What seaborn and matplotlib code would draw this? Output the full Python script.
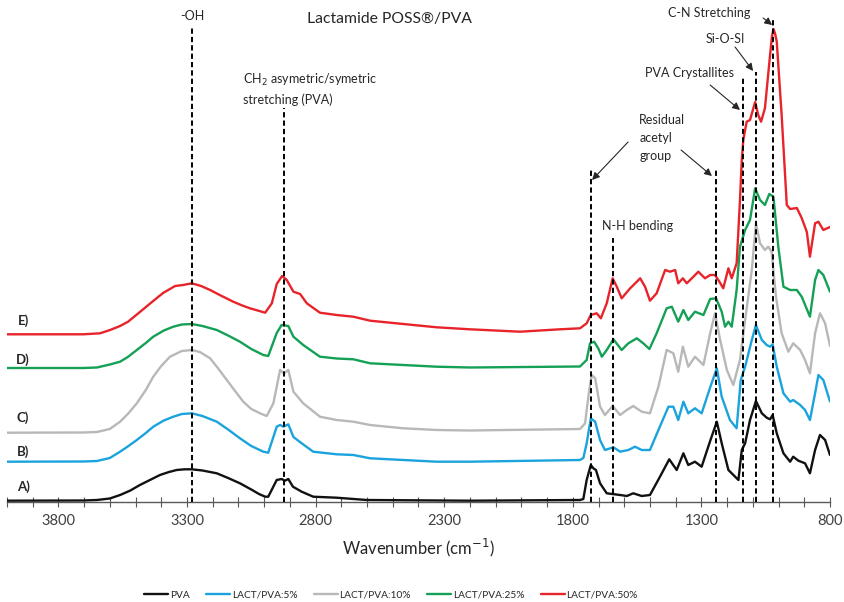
import numpy as np
import pandas as pd
import matplotlib
matplotlib.use("Agg")
import matplotlib.pyplot as plt
import seaborn as sns
from matplotlib.lines import Line2D
from matplotlib.ticker import MultipleLocator

# ---------------- data (wavenumber cm-1, absorbance in arbitrary stacked units) ----------------
SAMPLES = ["PVA", "LACT/PVA:5%", "LACT/PVA:10%", "LACT/PVA:25%", "LACT/PVA:50%"]
COLORS = ["#111111", "#1aa3dc", "#b8b8b8", "#14a055", "#e8242b"]
TRACE_LETTERS = ["A)", "B)", "C)", "D)", "E)"]

A_WN = [4000, 3703, 3650, 3600, 3560, 3520, 3483, 3440, 3405, 3370,
        3340, 3310, 3281, 3240, 3184, 3140, 3094, 3050, 3020, 2996,
        2984, 2951, 2932, 2919, 2906, 2888, 2854, 2809, 2718, 2601,
        2200, 1772, 1759, 1746, 1730, 1720, 1710, 1694, 1668, 1616,
        1590, 1565, 1532, 1500, 1461, 1425, 1396, 1370, 1351, 1325,
        1299, 1266, 1240, 1221, 1195, 1156, 1143, 1130, 1111, 1088,
        1065, 1046, 1033, 1023, 1007, 981, 955, 943, 923, 897,
        878, 858, 839, 819, 800]
A_I = [1.3, 1.5, 2, 3.5, 7, 11.5, 17, 22.5, 27, 30,
       32, 32.7, 32.7, 31.5, 28.7, 24, 18.7, 12.5, 8, 5.3,
       5.3, 22, 23, 21.3, 23, 15.3, 10.3, 5.3, 4.3, 2,
       1.3, 2, 3, 22, 37, 33.7, 32, 18.7, 8.7, 7,
       6, 8.7, 6, 7, 25.3, 42.7, 32, 48.7, 37, 40.3,
       35.3, 61, 80.3, 58.7, 32, 22, 52, 58.7, 82, 101,
       88.7, 84.3, 82.7, 87, 68.7, 48.7, 40.3, 45.3, 41.3, 38.7,
       28.7, 52, 67, 62, 47]

B_WN = [4000, 3703, 3650, 3600, 3560, 3530, 3495, 3460, 3431, 3390,
        3353, 3320, 3281, 3240, 3184, 3140, 3094, 3050, 3003, 2984,
        2951, 2938, 2925, 2906, 2886, 2854, 2809, 2718, 2653, 2588,
        2459, 2329, 2200, 1772, 1759, 1746, 1730, 1713, 1694, 1675,
        1642, 1616, 1584, 1558, 1532, 1500, 1467, 1428, 1409, 1390,
        1370, 1351, 1325, 1299, 1266, 1240, 1221, 1189, 1163, 1147,
        1130, 1104, 1088, 1065, 1046, 1033, 1023, 1007, 981, 955,
        943, 916, 897, 878, 858, 845, 826, 800]
B_I = [40.3, 40.5, 41, 44, 50.3, 55.5, 62, 69, 75.3, 81.5,
       85.3, 88, 88.7, 86, 80.3, 72.5, 63.7, 56, 50.3, 49.3,
       75.3, 77, 75.3, 77.7, 65, 58.7, 50.3, 47.7, 47, 43.7,
       42, 40.3, 40.3, 42, 44, 58.7, 83.7, 80.3, 62, 52,
       54.7, 50.3, 52, 55.3, 52, 52, 72, 95.3, 95.3, 82,
       100.3, 88.7, 93.7, 88.7, 114.5, 133.7, 105.3, 82, 73.7, 122,
       135.3, 162, 177, 162, 157, 155.3, 157.7, 135.3, 108.7, 100.3,
       102, 97, 92, 82, 108.7, 127, 122, 100.5]

C_WN = [4000, 3703, 3650, 3600, 3560, 3530, 3495, 3460, 3431, 3400,
        3366, 3320, 3281, 3250, 3210, 3180, 3145, 3110, 3081, 3050,
        3016, 2990, 2964, 2938, 2923, 2906, 2886, 2848, 2783, 2718,
        2653, 2588, 2459, 2329, 2200, 1772, 1752, 1746, 1736, 1726,
        1713, 1694, 1675, 1645, 1616, 1590, 1565, 1532, 1500, 1467,
        1435, 1409, 1390, 1372, 1351, 1325, 1292, 1266, 1247, 1227,
        1201, 1176, 1150, 1130, 1104, 1088, 1072, 1053, 1040, 1027,
        1010, 988, 962, 943, 916, 897, 878, 858, 839, 819,
        800]
C_I = [69.3, 69.5, 70, 73, 80.3, 88, 98.7, 112, 125.3, 136,
       145.3, 151, 152, 150, 143.7, 134, 122, 110, 100.3, 93,
       88.7, 86, 98.7, 132, 128.7, 132, 110.3, 98.7, 85.3, 82,
       80.3, 77, 73.7, 72, 71.5, 73, 78.7, 92, 112, 127,
       123.7, 95.3, 87, 96, 87, 92, 96, 90.3, 88.7, 115.3,
       152, 148.7, 130.3, 155.3, 135.3, 145.3, 137, 168.7, 188.7, 162,
       132, 117, 142, 182, 232, 278.7, 258.7, 252, 255.3, 250.3,
       205.3, 168.7, 150.3, 158.7, 152, 142, 128.7, 168.7, 188.7, 178.7,
       156]

D_WN = [4000, 3703, 3650, 3600, 3560, 3530, 3495, 3460, 3431, 3390,
        3353, 3320, 3281, 3240, 3184, 3140, 3094, 3050, 3003, 2984,
        2951, 2932, 2906, 2886, 2848, 2783, 2718, 2653, 2588, 2459,
        2329, 2200, 1772, 1746, 1733, 1717, 1701, 1687, 1668, 1642,
        1610, 1584, 1551, 1526, 1502, 1474, 1435, 1415, 1390, 1370,
        1351, 1325, 1292, 1266, 1243, 1221, 1208, 1195, 1182, 1163,
        1150, 1130, 1111, 1091, 1072, 1053, 1036, 1020, 1001, 981,
        955, 929, 910, 878, 858, 845, 826, 800]
D_I = [134, 134, 134.5, 137.5, 140.3, 145, 152, 159, 165.3, 171.5,
       175.3, 177.5, 178, 176, 172, 166.5, 160.3, 153, 147, 146,
       169, 177, 176, 165.3, 157, 145.3, 143.5, 142.7, 138.7, 137,
       135.3, 134.5, 135.5, 142, 158.7, 160.3, 153.7, 145.3, 152, 162.7,
       152, 158.7, 163.7, 158.7, 153, 168.7, 193.7, 195.3, 180.3, 192,
       182, 190.3, 187, 203, 203.7, 190.3, 175.3, 180.3, 175.3, 212,
       255.3, 272, 282, 313.7, 302, 297, 308, 305.3, 255.3, 215.3,
       212, 212, 205.3, 185.3, 222, 232, 227, 210.3]

E_WN = [4000, 3703, 3638, 3599, 3560, 3529, 3483, 3436, 3393, 3346,
        3315, 3281, 3245, 3210, 3165, 3120, 3085, 3055, 3025, 2996,
        2970, 2951, 2930, 2912, 2886, 2860, 2834, 2783, 2718, 2653,
        2588, 2459, 2329, 2200, 2005, 1850, 1772, 1746, 1730, 1707,
        1691, 1668, 1645, 1629, 1610, 1577, 1551, 1538, 1519, 1500,
        1474, 1441, 1422, 1402, 1390, 1372, 1357, 1331, 1312, 1286,
        1266, 1247, 1230, 1215, 1195, 1182, 1163, 1156, 1150, 1143,
        1137, 1124, 1111, 1091, 1079, 1068, 1053, 1033, 1026, 1020,
        1014, 1007, 988, 968, 955, 929, 910, 890, 878, 858,
        845, 826, 800]
E_I = [167.7, 167.7, 168.7, 172, 176, 180.3, 190, 200, 209, 216,
       217, 218.7, 216, 212, 206, 200.3, 196.5, 193.7, 191.5, 189.3,
       198.7, 218, 226, 222, 210.3, 208, 198.7, 189.3, 187, 185.3,
       181.3, 178, 174.7, 172.7, 170.3, 172.7, 173.7, 178.7, 187, 188.7,
       183.7, 198.7, 223.7, 215.3, 203.7, 213.7, 220.3, 223.7, 215.3, 201.3,
       208.7, 232, 230.3, 232, 218.7, 223.7, 218.7, 225.3, 230.3, 223.7,
       227, 227, 220.3, 213.7, 233.7, 223.7, 238.7, 272, 302, 342,
       362, 380.3, 382, 400, 387, 380.3, 393.7, 447, 465, 473,
       469, 460.3, 387, 297, 293, 294, 284, 270, 245.3, 278.7,
       280.3, 272, 275]

WNS = [A_WN, B_WN, C_WN, D_WN, E_WN]
INTS = [A_I, B_I, C_I, D_I, E_I]
LETTER_Y = [15, 50, 84, 142, 181]

# band markers: wavenumber and top of dashed line
BAND_WN = [3279, 2923, 1731, 1642, 1243, 1137, 1088, 1020]
BAND_TOP = [474, 394, 332, 264, 332, 424, 430, 484]

X_TICKS = [3800, 3300, 2800, 2300, 1800, 1300, 800]

# ---------------- plot ----------------
sns.set_theme(style="white")
plt.rcParams['font.family'] = ['Lato', 'DejaVu Sans']

fig = plt.figure(figsize=(8.45, 6.02), dpi=100)
ax = fig.add_axes([6.9 / 845, 100 / 602, 823.1 / 845, 502 / 602])

frames = [pd.DataFrame({"wn": w, "I": i, "sample": s}) for s, w, i in zip(SAMPLES, WNS, INTS)]
df = pd.concat(frames, ignore_index=True)
sns.lineplot(data=df, x="wn", y="I", hue="sample", hue_order=SAMPLES,
             palette=dict(zip(SAMPLES, COLORS)), estimator=None, sort=True,
             legend=False, linewidth=1.7, ax=ax)
for ln in ax.get_lines():
    ln.set_solid_joinstyle("round")

ax.set_xlim(4000, 800)
ax.set_ylim(0, 502)
ax.set_yticks([])
ax.set_ylabel("")
ax.set_xticks(X_TICKS)
ax.set_xticklabels([str(t) for t in X_TICKS])
ax.xaxis.set_minor_locator(MultipleLocator(100))
ax.tick_params(axis="x", which="both", direction="inout", length=7, width=0.8,
               color="#595959", bottom=True)
ax.tick_params(axis="x", which="major", labelsize=10.5, labelcolor="#404040", pad=5)
for side in ["left", "top", "right"]:
    ax.spines[side].set_visible(False)
ax.spines["bottom"].set_color("#595959")
ax.spines["bottom"].set_linewidth(1.0)

ax.set_xlabel("Wavenumber (cm$^{-1}$)", fontsize=12, color="#262626")
ax.xaxis.set_label_coords(0.5, -0.07)

# dashed band markers
for wn, top in zip(BAND_WN, BAND_TOP):
    ax.plot([wn, wn], [0, top], color="black", lw=1.4, ls=(0, (2.7, 1.6)), zorder=6)

tc = "#262626"
fs = 9
ax.text(3279, 486, "-OH", ha="center", va="center", fontsize=fs, color=tc)
ax.text(2514, 483, "Lactamide POSS\u00ae/PVA", ha="center", va="center", fontsize=11.3, color=tc)
ax.text(3082, 413, "CH$_2$ asymetric/symetric\nstretching (PVA)", ha="left", va="center",
        fontsize=fs, color=tc, linespacing=1.55)
ax.text(1542, 364, "Residual\nacetyl\ngroup", ha="left", va="center", fontsize=fs,
        color=tc, linespacing=1.6)
ax.text(1686, 276, "N-H bending", ha="left", va="center", fontsize=fs, color=tc)
ax.text(1519, 429, "PVA Crystallites", ha="left", va="center", fontsize=fs, color=tc)
ax.text(1282, 463, "Si-O-SI", ha="left", va="center", fontsize=fs, color=tc)
ax.text(1430, 489, "C-N Stretching", ha="left", va="center", fontsize=fs, color=tc)

arrows = [((1585, 360), (1725, 322)), ((1379, 352), (1259, 326)),
          ((1266, 417), (1150, 392)), ((1169, 455), (1099, 431)),
          ((1060, 484), (1025, 477))]
for (x0, y0), (x1, y1) in arrows:
    ax.annotate("", xy=(x1, y1), xytext=(x0, y0),
                arrowprops=dict(arrowstyle="-|>", color="#262626", lw=0.8,
                                mutation_scale=11, shrinkA=0, shrinkB=0), zorder=7)

for letter, y in zip(TRACE_LETTERS, LETTER_Y):
    ax.text(3937, y, letter, ha="center", va="center", fontsize=9.5, fontweight="bold", color=tc)

handles = [Line2D([0], [0], color=c, lw=1.7) for c in COLORS]
fig.legend(handles, SAMPLES, loc="center", bbox_to_anchor=(391 / 845, 1 - 595 / 602),
           ncol=5, frameon=False, fontsize=7.3, handlelength=2.4, handletextpad=0.15,
           columnspacing=1.6, labelcolor="#262626", borderpad=0.1)

fig.savefig("out.png", dpi=100)
